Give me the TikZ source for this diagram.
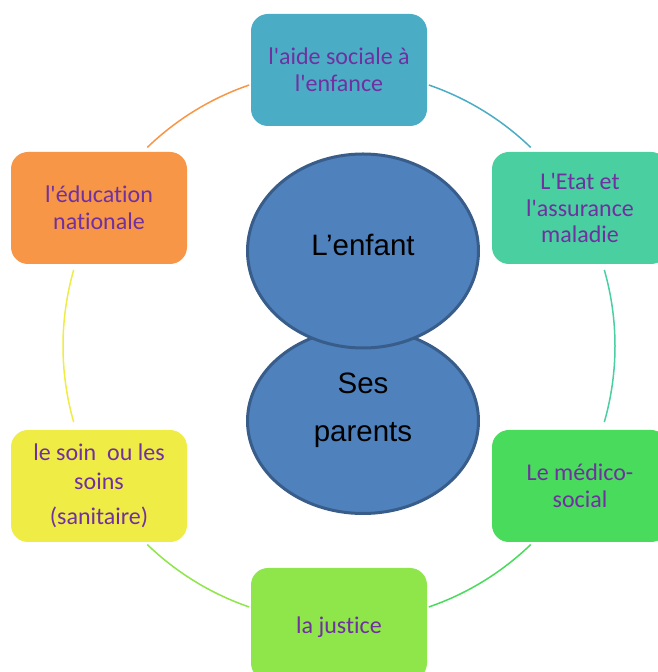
\documentclass[tikz,border=0pt]{standalone}
\usepackage{fontspec}
\setmainfont{Carlito}[Ligatures={TeXOff,NoCommon}]
\newfontfamily\arialf{Liberation Sans}
\usetikzlibrary{shapes.geometric}
\definecolor{caqua}{HTML}{4BACC6}
\definecolor{corange}{HTML}{F79646}
\definecolor{cmint}{HTML}{4ACFA0}
\definecolor{cgreen}{HTML}{48DB5C}
\definecolor{clime}{HTML}{8EE64B}
\definecolor{cyellow}{HTML}{EFEC45}
\definecolor{txtpurple}{HTML}{7030A0}
\definecolor{ellfill}{HTML}{4F81BD}
\definecolor{ellborder}{HTML}{385D8A}
\begin{document}
\begin{tikzpicture}[x=1pt,y=1pt,
  box/.style={rounded corners=17pt, minimum width=176pt, minimum height=112pt, inner sep=0pt,
    text=txtpurple, font=\fontsize{24}{26.5}\selectfont, align=center},
  boxtext/.style={text=txtpurple, font=\fontsize{24}{26.5}\selectfont, align=center, inner sep=0pt},
  ell/.style={ellipse, fill=ellfill, draw=ellborder, line width=3pt, inner sep=0pt},
  arcline/.style={line width=1.5pt},
  elltext/.style={font=\arialf\fontsize{29.5}{34}\selectfont, text=black, inner sep=0pt}]
\useasboundingbox (0,0) rectangle (657,672);
\coordinate (c) at (339,326);
% ring arcs
\draw[arcline, caqua] ([shift={(71:276pt)}]c) arc[start angle=71, end angle=46, radius=276pt];
\draw[arcline, cmint] ([shift={(16:276pt)}]c) arc[start angle=16, end angle=-16, radius=276pt];
\draw[arcline, cgreen] ([shift={(-46:276pt)}]c) arc[start angle=-46, end angle=-71, radius=276pt];
\draw[arcline, clime] ([shift={(-109:276pt)}]c) arc[start angle=-109, end angle=-134, radius=276pt];
\draw[arcline, cyellow] ([shift={(-164:276pt)}]c) arc[start angle=-164, end angle=-196, radius=276pt];
\draw[arcline, corange] ([shift={(134:276pt)}]c) arc[start angle=134, end angle=109, radius=276pt];
% boxes
\node[box, fill=caqua] (ase) at (339,602) {l'aide sociale à\\l'enfance};
\node[box, fill=corange] (edu) at (99,464) {l'éducation\\nationale};
\node[box, fill=cmint] (etat) at (580,464) {L'Etat et\\l'assurance\\maladie};
\node[box, fill=cyellow] (soin) at (99,186) {le soin~ ou les\\[2pt]soins\\[9pt](sanitaire)};
\node[box, fill=cgreen] (med) at (580,186) {Le médico-\\social};
\node[box, fill=clime] (just) at (339,48) {};
\node[boxtext] (tjust) at ([yshift=-3pt]just.center) {la justice};
% ellipses
\node[ell, minimum width=231pt, minimum height=185pt] (par) at (363,251) {};
\node[ell, minimum width=231pt, minimum height=194pt] (enf) at (363,421) {};
\node[elltext] (tenf) at (363,427) {L’enfant};
\node[elltext] (tses) at (363,289) {Ses};
\node[elltext] (tpar) at (363,237) {parents};
\end{tikzpicture}
\end{document}
